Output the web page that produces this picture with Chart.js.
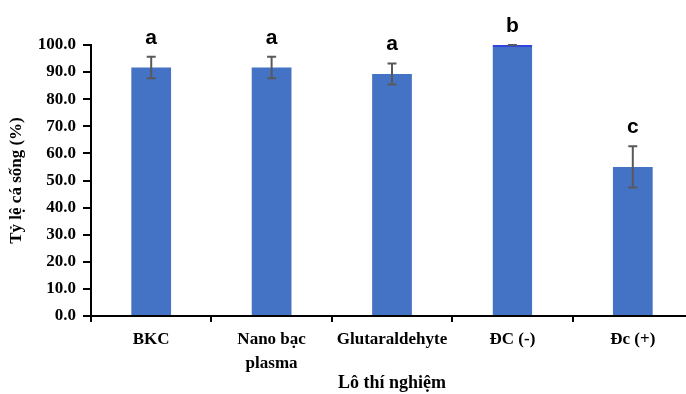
<!DOCTYPE html>
<html>
<head>
<meta charset="utf-8">
<script src="https://cdn.jsdelivr.net/npm/chart.js@4.4.1/dist/chart.umd.min.js"></script>
<style>
  html, body { margin: 0; padding: 0; background: #fff; overflow: hidden; }
  #wrap { width: 686px; height: 394px; overflow: hidden; }
  canvas { display: block; }
</style>
</head>
<body>
<div id="wrap"><canvas id="myChart" width="700" height="394"></canvas></div>
<script>
// data
var groups = ['BKC', ['Nano bạc', 'plasma'], 'Glutaraldehyte', 'ĐC (-)', 'Đc (+)'];
var survival = [91.7, 91.7, 89.3, 100.0, 55.0];
var errors = [4.0, 4.0, 3.9, 0.0, 7.6];
var letters = ['a', 'a', 'a', 'b', 'c'];
var yMin = 0, yMax = 100, yStep = 10;

var serif = '"Liberation Serif", "Times New Roman", serif';

// error bars + significance letters
var errorBars = {
  id: 'errorBars',
  afterDatasetsDraw: function(chart) {
    var ctx = chart.ctx;
    var x = chart.scales.x, y = chart.scales.y;
    ctx.save();
    survival.forEach(function(v, i) {
      var cx = x.getPixelForValue(i);
      var top = y.getPixelForValue(v + errors[i]);
      var bot = y.getPixelForValue(v - errors[i]);
      ctx.strokeStyle = '#595959';
      ctx.lineWidth = 2;
      ctx.beginPath();
      ctx.moveTo(cx, top); ctx.lineTo(cx, bot);
      ctx.moveTo(cx - 4.5, top); ctx.lineTo(cx + 4.5, top);
      ctx.moveTo(cx - 4.5, bot); ctx.lineTo(cx + 4.5, bot);
      ctx.stroke();
      ctx.fillStyle = '#000';
      ctx.font = 'bold 21px "Liberation Sans", Arial, sans-serif';
      ctx.textAlign = 'center';
      ctx.textBaseline = 'alphabetic';
      ctx.fillText(letters[i], cx, top - 13);
    });
    ctx.restore();
  }
};

var ctx = document.getElementById('myChart');
var myChart = new Chart(ctx, {
  type: 'bar',
  data: {
    labels: groups,
    datasets: [{
      data: survival,
      backgroundColor: '#4472C4',
      borderColor: '#3344DD',
      borderWidth: function(c) { return errors[c.dataIndex] === 0 ? { top: 2, left: 0, right: 0, bottom: 0 } : 0; },
      borderSkipped: 'start',
      barPercentage: 0.33,
      categoryPercentage: 1.0
    }]
  },
  plugins: [errorBars],
  options: {
    responsive: false,
    animation: false,
    layout: { padding: { top: 45, right: 7, left: 0, bottom: 0 } },
    plugins: {
      legend: { display: false },
      tooltip: { enabled: false }
    },
    scales: {
      x: {
        afterFit: function(s) { s.height = 78; },
        border: { display: true, color: '#000', width: 2 },
        grid: { display: true, drawOnChartArea: false, offset: true, color: '#000', lineWidth: 2, tickLength: 6 },
        ticks: {
          color: '#000',
          padding: 6,
          maxRotation: 0,
          font: { family: serif, size: 17, weight: 'bold', lineHeight: 1.4 }
        },
        title: {
          display: true,
          text: 'Lô thí nghiệm',
          color: '#000',
          padding: { top: 0, bottom: 0 },
          font: { family: serif, size: 18, weight: 'bold' }
        }
      },
      y: {
        min: yMin,
        max: yMax,
        afterFit: function(s) { s.width = 91; },
        border: { display: true, color: '#000', width: 2 },
        grid: { display: true, drawOnChartArea: false, color: '#000', lineWidth: 2, tickLength: 8 },
        ticks: {
          stepSize: yStep,
          color: '#000',
          padding: 7,
          callback: function(v) { return v.toFixed(1); },
          font: { family: serif, size: 17, weight: 'bold' }
        },
        title: {
          display: true,
          text: 'Tỷ lệ cá sống (%)',
          color: '#000',
          padding: { top: 6, bottom: 0 },
          font: { family: serif, size: 17, weight: 'bold' }
        }
      }
    }
  }
});
</script>
</body>
</html>
